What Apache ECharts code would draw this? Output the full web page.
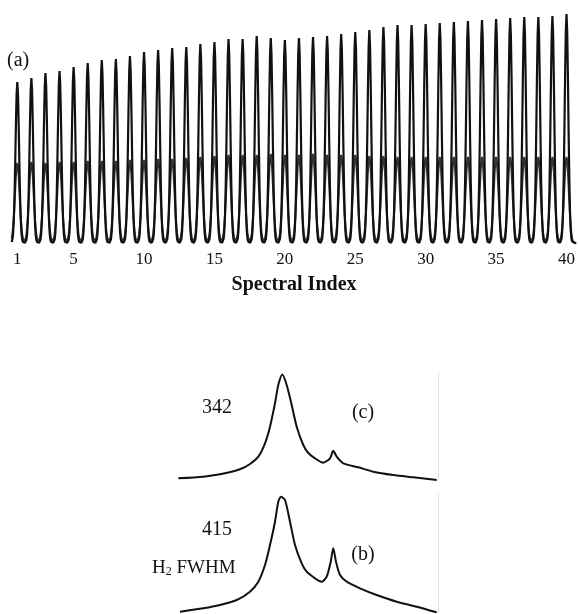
<!DOCTYPE html>
<html>
<head>
<meta charset="utf-8">
<script src="https://cdn.jsdelivr.net/npm/echarts@6/dist/echarts.min.js"></script>
<style>
  html, body { margin: 0; padding: 0; background: #fff; }
  #chart { width: 578px; height: 614px; }
</style>
</head>
<body>
<div id="chart"></div>
<script>
// Panel (a): peak intensity of the main line and of the weaker companion line at each spectral index
const spectralIndex = Array.from({ length: 40 }, (_, i) => i + 1);
const peakHeights = [161, 165, 170, 172, 176, 180, 183, 184, 187, 191,
                     193, 195, 196, 199, 201, 204, 204, 207, 205, 203,
                     205, 206, 207, 209, 211, 213, 216, 218, 218, 219,
                     220, 221, 222, 223, 224, 225, 226, 226, 227, 229];
const shoulderHeights = [80, 81, 80, 81, 81, 82, 82, 82, 83, 83,
                         84, 84, 85, 86, 87, 88, 88, 88, 89, 88,
                         88, 89, 88, 88, 88, 87, 87, 86, 86, 86,
                         86, 86, 86, 86, 86, 86, 86, 86, 86, 86];
const tickLabels = [1, 5, 10, 15, 20, 25, 30, 35, 40];

// Panels (b) and (c): single spectra (shift in channels, intensity in arbitrary units)
const cShift = [0.3, 25.3, 42, 62, 72, 80.3, 87, 92, 97, 100.3, 104.3, 108.7, 113.7, 118.7,
                125.3, 130.3, 137, 145.3, 152, 155.3, 158.7, 165.3, 180.3, 195.3, 215.3, 235.3, 258.7];
const cIntensity = [1.7, 3.3, 5.7, 10.7, 16, 23.3, 36.7, 53.3, 76.7, 95, 105.5, 95, 75, 53.3,
                    35, 27, 21.7, 17.3, 21.7, 29.3, 23.3, 16.7, 12.7, 8.3, 5, 2.7, 0];
const bShift = [2, 25.3, 42, 58.7, 72, 80.3, 87, 92, 97, 100.3, 103, 107, 112, 117, 123.7,
                128.7, 137, 143.7, 148.7, 152.7, 155.3, 158, 162, 168.7, 182, 198.7, 218.7, 238.7, 258.7];
const bIntensity = [1.3, 4.7, 8, 13, 21.3, 31.3, 48, 68, 91.3, 111.3, 116.3, 113, 91.3, 68, 49.7,
                    41.3, 34.7, 31.3, 36.3, 51.3, 64.7, 51.3, 38, 31.3, 24.7, 18, 11.3, 6.3, 0.7];

// Line-shape widths (in spectral-index units) used to draw each peak of panel (a)
const MAIN_SIGMA = 0.125;
const SHOULDER_SIGMA = 0.165;
const X_MIN = 0.6, X_MAX = 40.7, STEP = 0.05;

function buildTrace(heights, sigma) {
  const pts = [];
  const n = Math.round((X_MAX - X_MIN) / STEP);
  for (let k = 0; k <= n; k++) {
    const x = +(X_MIN + k * STEP).toFixed(3);
    let y = 0;
    spectralIndex.forEach((c, i) => {
      const d = x - c;
      if (Math.abs(d) < 1.5) y += heights[i] * Math.exp(-d * d / (2 * sigma * sigma));
    });
    pts.push([x, y]);
  }
  return pts;
}

const zip = (xs, ys) => xs.map((x, i) => [x, ys[i]]);

const serif = 'Liberation Serif';
const chart = echarts.init(document.getElementById('chart'), null, { renderer: 'canvas' });

const pinkEdge = { show: true, onZero: false, lineStyle: { color: '#f4dede', width: 1 } };

chart.setOption({
  animation: false,
  backgroundColor: '#fff',
  grid: [
    { left: 11.66, top: 3, width: 565.7, height: 240 },
    { left: 178, top: 372, width: 260, height: 108 },
    { left: 178, top: 493, width: 260, height: 120 }
  ],
  xAxis: [
    {
      gridIndex: 0, type: 'value', min: X_MIN, max: X_MAX,
      axisLine: { show: false }, axisTick: { show: false }, splitLine: { show: false },
      axisLabel: {
        customValues: tickLabels, margin: 8,
        fontFamily: serif, fontSize: 17, color: '#111'
      },
      name: 'Spectral Index', nameLocation: 'middle', nameGap: 32,
      nameTextStyle: { fontFamily: serif, fontWeight: 'bold', fontSize: 20, color: '#111' }
    },
    { gridIndex: 1, type: 'value', min: 0, max: 260, show: false },
    { gridIndex: 2, type: 'value', min: 0, max: 260, show: false }
  ],
  yAxis: [
    { gridIndex: 0, type: 'value', min: 0, max: 240, show: false },
    {
      gridIndex: 1, type: 'value', min: 0, max: 108, position: 'right',
      axisLine: pinkEdge, axisTick: { show: false }, axisLabel: { show: false }, splitLine: { show: false }
    },
    {
      gridIndex: 2, type: 'value', min: 0, max: 120, position: 'right',
      axisLine: pinkEdge, axisTick: { show: false }, axisLabel: { show: false }, splitLine: { show: false }
    }
  ],
  series: [
    {
      type: 'line', xAxisIndex: 0, yAxisIndex: 0, data: buildTrace(shoulderHeights, SHOULDER_SIGMA),
      showSymbol: false, lineStyle: { color: '#333', width: 2 }
    },
    {
      type: 'line', xAxisIndex: 0, yAxisIndex: 0, data: buildTrace(peakHeights, MAIN_SIGMA),
      showSymbol: false, lineStyle: { color: '#111', width: 2.2 }
    },
    {
      type: 'line', xAxisIndex: 1, yAxisIndex: 1, data: zip(cShift, cIntensity),
      showSymbol: false, smooth: 0.25, lineStyle: { color: '#111', width: 2 }
    },
    {
      type: 'line', xAxisIndex: 2, yAxisIndex: 2, data: zip(bShift, bIntensity),
      showSymbol: false, smooth: 0.25, lineStyle: { color: '#111', width: 2 }
    }
  ],
  graphic: [
    { type: 'text', left: 7, top: 51, style: { text: '(a)', font: '20px "Liberation Serif"', fill: '#111' } },
    { type: 'text', x: 217, y: 408, style: { text: '342', font: '20px "Liberation Serif"', fill: '#111', align: 'center', verticalAlign: 'middle' } },
    { type: 'text', x: 363, y: 413, style: { text: '(c)', font: '20px "Liberation Serif"', fill: '#111', align: 'center', verticalAlign: 'middle' } },
    { type: 'text', x: 217, y: 530, style: { text: '415', font: '20px "Liberation Serif"', fill: '#111', align: 'center', verticalAlign: 'middle' } },
    { type: 'text', x: 363, y: 555, style: { text: '(b)', font: '20px "Liberation Serif"', fill: '#111', align: 'center', verticalAlign: 'middle' } },
    {
      type: 'text', x: 152, y: 554,
      style: {
        text: '{m|H}{s|2}{m| FWHM}',
        rich: {
          m: { fontFamily: serif, fontSize: 19, fill: '#111', color: '#111', verticalAlign: 'bottom' },
          s: { fontFamily: serif, fontSize: 12, fill: '#111', color: '#111', padding: [12, 0, 0, 0] }
        }
      }
    }
  ]
});
</script>
</body>
</html>
